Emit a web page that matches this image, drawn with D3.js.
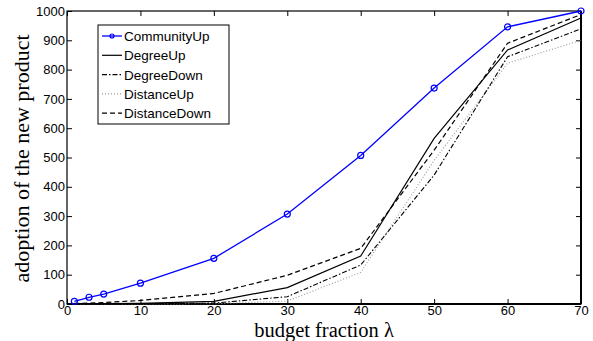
<!DOCTYPE html>
<html>
<head>
<meta charset="utf-8">
<script src="https://cdn.jsdelivr.net/npm/d3@7"></script>
<style>
  body { margin: 0; background: #fff; }
  .tick text { font-family: "Liberation Sans", Arial, sans-serif; font-size: 13px; fill: #000; }
  .lbl { font-family: "Liberation Serif", "DejaVu Serif", serif; font-size: 20.5px; fill: #000; }
  .leg { font-family: "Liberation Sans", Arial, sans-serif; font-size: 13.5px; fill: #000; }
</style>
</head>
<body>
<div id="chart"></div>
<script>
// budget fraction values
var budget = [1, 3, 5, 10, 20, 30, 40, 50, 60, 70];

// adoption counts
var communityUp  = [9, 23, 34, 71, 156, 307, 507, 737, 946, 1000];
var degreeUp     = [1, 1, 1, 2, 9, 56, 164, 565, 867, 976];
var degreeDown   = [0, 0, 0, 1, 3, 25, 133, 440, 844, 939];
var distanceUp   = [0, 0, 0, 0, 1, 10, 108, 490, 822, 900];
var distanceDown = [2, 3, 5, 12, 36, 98, 190, 525, 890, 988];

var xTicks = [0, 10, 20, 30, 40, 50, 60, 70];
var yTicks = [0, 100, 200, 300, 400, 500, 600, 700, 800, 900, 1000];

var series = [
  {name: "CommunityUp",  values: communityUp,  color: "#0000ff", dash: null,      width: 1.3, marker: true},
  {name: "DegreeUp",     values: degreeUp,     color: "#000",    dash: null,      width: 1.2},
  {name: "DegreeDown",   values: degreeDown,   color: "#000",    dash: "5,2,1.5,2", width: 1.1},
  {name: "DistanceUp",   values: distanceUp,   color: "#999",    dash: "1,2",     width: 1.1},
  {name: "DistanceDown", values: distanceDown, color: "#000",    dash: "5,3",     width: 1.2}
];

var width = 593, height = 341;
var margin = {top: 11, right: 12, bottom: 37, left: 67};
var w = width - margin.left - margin.right,
    h = height - margin.top - margin.bottom;

var svg = d3.select("#chart").append("svg")
    .attr("width", width)
    .attr("height", height);

var g = svg.append("g")
    .attr("transform", "translate(" + margin.left + "," + margin.top + ")");

var x = d3.scaleLinear().domain([0, 70]).range([0, w]);
var y = d3.scaleLinear().domain([0, 1000]).range([h, 0]);

// axes, matlab style: ticks inside on all sides
g.append("g")
    .attr("transform", "translate(0," + h + ")")
    .call(d3.axisBottom(x).tickValues(xTicks).tickSizeInner(-5).tickSizeOuter(0).tickPadding(2))
    .call(function(s) { s.select(".domain").remove(); });
g.append("g")
    .call(d3.axisLeft(y).tickValues(yTicks).tickFormat(d3.format("d")).tickSizeInner(-5).tickSizeOuter(0).tickPadding(2))
    .call(function(s) { s.select(".domain").remove(); });
g.append("g")
    .call(d3.axisTop(x).tickValues(xTicks).tickSizeInner(-5).tickSizeOuter(0).tickFormat(""))
    .call(function(s) { s.select(".domain").remove(); });
g.append("g")
    .attr("transform", "translate(" + w + ",0)")
    .call(d3.axisRight(y).tickValues(yTicks).tickSizeInner(-5).tickSizeOuter(0).tickFormat(""))
    .call(function(s) { s.select(".domain").remove(); });

g.selectAll(".tick line").attr("stroke", "#000").attr("stroke-width", 1);

// box
g.append("rect")
    .attr("width", w).attr("height", h)
    .attr("fill", "none").attr("stroke", "#000").attr("stroke-width", 1.2);
g.append("line")
    .attr("x1", 0).attr("x2", w).attr("y1", h).attr("y2", h)
    .attr("stroke", "#000").attr("stroke-width", 2);
g.append("line")
    .attr("x1", w).attr("x2", w).attr("y1", 0).attr("y2", h)
    .attr("stroke", "#000").attr("stroke-width", 2);

var line = d3.line()
    .x(function(d, i) { return x(budget[i]); })
    .y(function(d) { return y(d); });

// draw black series first, blue on top
series.slice().reverse().forEach(function(s) {
  g.append("path")
      .datum(s.values)
      .attr("fill", "none")
      .attr("stroke", s.color)
      .attr("stroke-width", s.width)
      .attr("stroke-dasharray", s.dash)
      .attr("d", line);
  if (s.marker) {
    g.selectAll(".pt")
        .data(s.values)
        .enter().append("circle")
        .attr("cx", function(d, i) { return x(budget[i]); })
        .attr("cy", function(d) { return y(d); })
        .attr("r", 3)
        .attr("fill", "none")
        .attr("stroke", s.color)
        .attr("stroke-width", 1.2);
  }
});

// legend
var lg = svg.append("g").attr("transform", "translate(98,25)");
lg.append("rect")
    .attr("width", 131).attr("height", 99)
    .attr("fill", "#fff").attr("stroke", "#000").attr("stroke-width", 1);
series.forEach(function(s, i) {
  var yy = 11 + i * 19.3;
  lg.append("line")
      .attr("x1", 4).attr("x2", 24).attr("y1", yy).attr("y2", yy)
      .attr("stroke", s.color)
      .attr("stroke-width", s.width)
      .attr("stroke-dasharray", s.dash);
  if (s.marker) {
    lg.append("circle").attr("cx", 14).attr("cy", yy).attr("r", 2)
        .attr("fill", "none").attr("stroke", s.color).attr("stroke-width", 1.2);
  }
  lg.append("text")
      .attr("class", "leg")
      .attr("x", 26).attr("y", yy + 5)
      .text(s.name);
});

// axis labels
svg.append("text")
    .attr("class", "lbl")
    .attr("x", margin.left + w / 2)
    .attr("y", 337)
    .attr("text-anchor", "middle")
    .text("budget fraction λ");
svg.append("text")
    .attr("class", "lbl")
    .attr("transform", "translate(29," + (margin.top + h / 2 + 1) + ") rotate(-90)")
    .attr("text-anchor", "middle")
    .style("font-size", "22px")
    .text("adoption of the new product");
</script>
</body>
</html>
